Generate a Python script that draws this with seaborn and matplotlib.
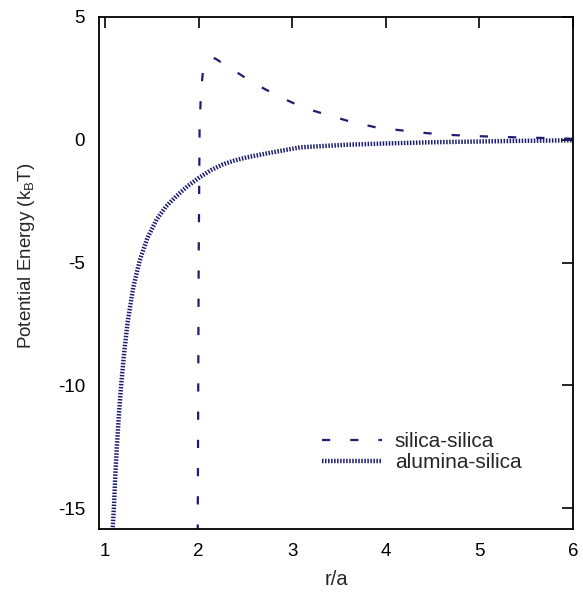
import matplotlib
matplotlib.use("Agg")
import matplotlib.pyplot as plt
import seaborn as sns
import pandas as pd

# silica-silica interaction potential (dashed)
silica_r = [1.99, 2.0, 2.01, 2.025, 2.045, 2.08, 2.15, 2.19, 2.3, 2.44, 2.55, 2.68, 2.81,
            2.95, 3.08, 3.22, 3.37, 3.62, 3.9, 4.15, 4.44, 4.67, 4.97, 5.2, 5.49, 5.74, 6.0]
silica_u = [-16.0, -5.0, 0.5, 2.0, 2.74, 3.1, 3.35, 3.28, 3.0, 2.67, 2.4, 2.12, 1.86,
            1.6, 1.38, 1.19, 1.02, 0.74, 0.5, 0.39, 0.27, 0.2, 0.15, 0.12, 0.09, 0.07, 0.04]

# alumina-silica interaction potential (dotted)
alumina_r = [1.08, 1.094, 1.11, 1.126, 1.15, 1.173, 1.2, 1.24, 1.3, 1.37, 1.45, 1.55, 1.65,
             1.76, 1.88, 2.01, 2.13, 2.26, 2.37, 2.51, 2.72, 3.08, 3.3, 3.6, 4.0, 4.5, 5.0,
             5.5, 6.0]
alumina_u = [-15.9, -15.0, -13.6, -12.5, -11.07, -9.94, -8.8, -7.46, -6.03, -4.92, -4.02,
             -3.25, -2.72, -2.3, -1.89, -1.53, -1.24, -1.0, -0.86, -0.72, -0.56, -0.31, -0.26,
             -0.2, -0.15, -0.1, -0.07, -0.04, -0.02]

x_ticks = [1, 2, 3, 4, 5, 6]
y_ticks = [-15, -10, -5, 0, 5]

sns.set_style("white")
plt.rcParams["font.family"] = ["Liberation Sans", "DejaVu Sans"]
plt.rcParams["mathtext.fontset"] = "custom"
plt.rcParams["mathtext.rm"] = "Liberation Sans"
plt.rcParams["mathtext.it"] = "Liberation Sans:italic"
plt.rcParams["axes.unicode_minus"] = False

color = "#1c1c72"
fig = plt.figure(figsize=(5.83, 5.92), dpi=100)
ax = fig.add_axes([99 / 583, 1 - 529 / 592, (573 - 99) / 583, (529 - 17) / 592])

df_s = pd.DataFrame({"r": silica_r, "u": silica_u})
df_a = pd.DataFrame({"r": alumina_r, "u": alumina_u})

sns.lineplot(data=df_s, x="r", y="u", ax=ax, color=color, lw=1.6, sort=False,
             estimator=None, label="silica-silica")
sns.lineplot(data=df_a, x="r", y="u", ax=ax, color=color, lw=3.2, sort=False,
             estimator=None, label="alumina-silica")
lines = ax.get_lines()
lines[0].set_dashes((3.7, 9.0))
lines[0].set_dash_capstyle("butt")
lines[1].set_dashes((0.34, 0.34))
lines[1].set_dash_capstyle("butt")

ax.set_xlim(0.935, 6.0)
ax.set_ylim(-15.85, 5.0)
ax.set_xticks(x_ticks)
ax.set_yticks(y_ticks)
ax.tick_params(direction="in", length=8, width=1.2, top=True, right=True,
               labelsize=13.5, colors="black", pad=10)
for s in ax.spines.values():
    s.set_color("black")
    s.set_linewidth(1.3)

ax.set_xlabel("r/a", fontsize=14.5, labelpad=7)
ax.set_ylabel("Potential Energy (k$_\\mathrm{B}$T)", fontsize=13.5)
ax.yaxis.set_label_coords(-0.131, 0.533)

leg = ax.legend(loc="upper left", bbox_to_anchor=(322 / 583, 1 - 432 / 592),
                bbox_transform=fig.transFigure, frameon=False, fontsize=15,
                handlelength=2.9, handletextpad=0.6, labelspacing=0.12,
                borderpad=0, borderaxespad=0)
hl = leg.get_lines()
hl[0].set_dashes((3.7, 9.0))
hl[0].set_dash_capstyle("butt")
hl[1].set_dashes((0.34, 0.34))
hl[1].set_dash_capstyle("butt")

fig.savefig("out.png", dpi=100)
